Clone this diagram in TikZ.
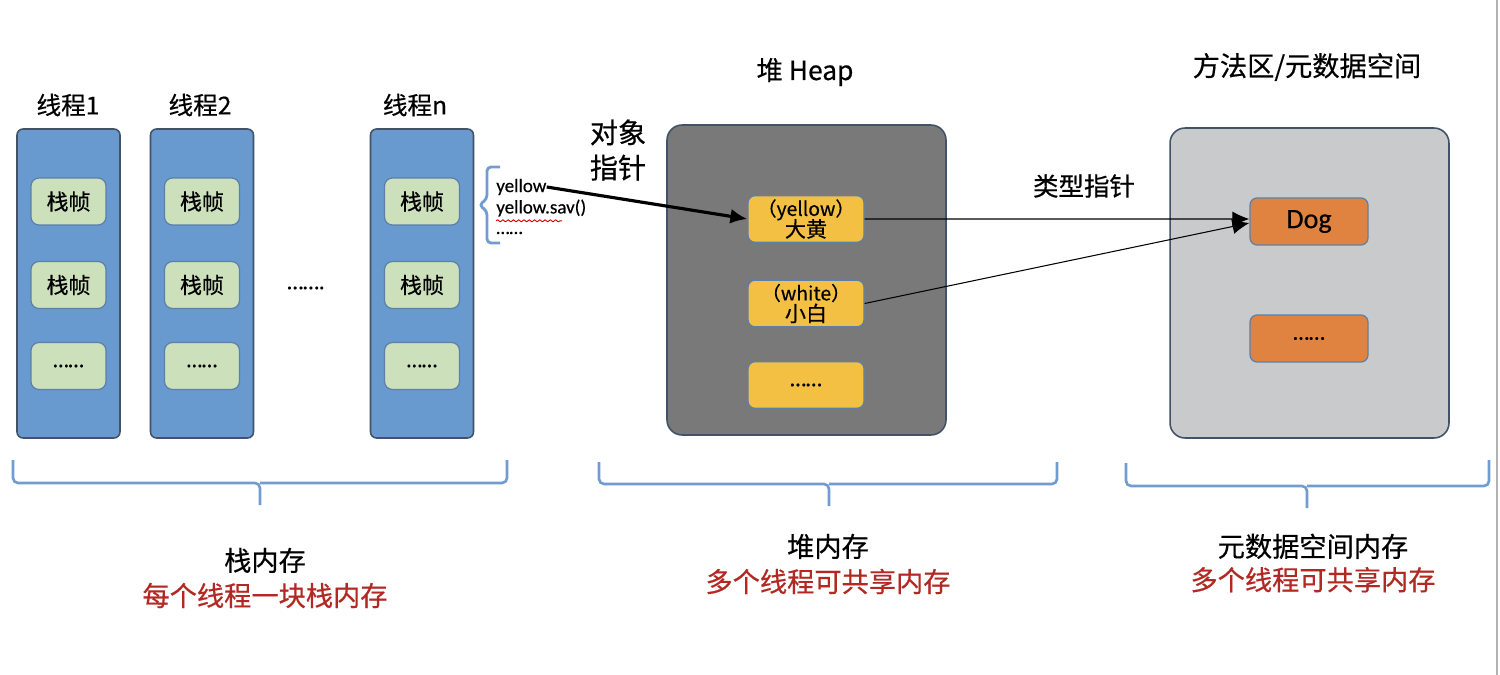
\documentclass[tikz,border=0pt]{standalone}
\usepackage{fontspec}
\setmainfont{Noto Sans CJK SC}[FakeBold=0.5]
\newfontfamily\lat{Carlito}[FakeBold=0.4]
\usetikzlibrary{arrows.meta,decorations.pathmorphing}

\definecolor{threadcol}{RGB}{104,153,207}
\definecolor{framecol}{RGB}{205,224,188}
\definecolor{heapcol}{RGB}{121,121,121}
\definecolor{metacol}{RGB}{201,202,204}
\definecolor{objcol}{RGB}{244,192,67}
\definecolor{classcol}{RGB}{224,131,64}
\definecolor{edgecol}{RGB}{66,82,104}
\definecolor{boxedge}{RGB}{92,128,168}
\definecolor{bracecol}{RGB}{112,156,210}
\definecolor{notecol}{RGB}{178,40,34}

\begin{document}
\begin{tikzpicture}[x=0.02cm,y=-0.02cm,>=latex,line join=round,
  thread/.style={draw=edgecol,fill=threadcol,line width=0.9pt,rounded corners=0.12cm,
    minimum width=2.06cm,minimum height=6.18cm,inner sep=0pt},
  stackframe/.style={draw=boxedge,fill=framecol,line width=0.7pt,rounded corners=0.16cm,
    minimum width=1.5cm,minimum height=0.94cm,inner sep=0pt,font=\fontsize{12.5}{14}\selectfont},
  area/.style={draw=edgecol,line width=0.9pt,rounded corners=0.3cm,
    minimum width=5.58cm,minimum height=6.2cm,inner sep=0pt},
  objbox/.style={draw=boxedge,fill=objcol,line width=0.7pt,rounded corners=0.14cm,
    minimum width=2.32cm,minimum height=0.93cm,inner sep=0pt,align=center,
    font=\fontsize{12}{14}\selectfont},
  classbox/.style={draw=boxedge,fill=classcol,line width=0.7pt,rounded corners=0.14cm,
    minimum width=2.36cm,minimum height=0.94cm,inner sep=0pt},
  title/.style={font=\fontsize{14}{16}\selectfont},
  label/.style={font=\fontsize{15.5}{20}\selectfont,align=center},
  brace/.style={draw=bracecol,line width=1.5pt,rounded corners=0.1cm},
  code/.style={font=\lat\fontsize{10.8}{12}\selectfont,anchor=west,inner sep=0pt}]
\useasboundingbox (0,0) rectangle (1500,675);
\draw[gray!60,line width=1pt] (1497,0) -- (1497,675);
%%
  % Node: thread 1
  \node[thread] (t1) at (68.5,283.5) {};
  \node[title] (t1name) at (68,105) {线程1};
  \node[stackframe] (f11) at (68.5,201.5) {栈帧};
  \node[stackframe] (f12) at (68.5,285) {栈帧};
  \node[stackframe] (f13) at (68.5,366) {\lat ……};
  % Node: thread 2
  \node[thread] (t2) at (202,283.5) {};
  \node[title] (t2name) at (200,105) {线程2};
  \node[stackframe] (f21) at (202,201.5) {栈帧};
  \node[stackframe] (f22) at (202,285) {栈帧};
  \node[stackframe] (f23) at (202,366) {\lat ……};
  % Node: more threads
  \node[font=\lat\fontsize{13}{14}\selectfont] (more) at (306,288) {…….};
  % Node: thread n
  \node[thread] (tn) at (422,283.5) {};
  \node[title] (tnname) at (415,105) {线程n};
  \node[stackframe] (fn1) at (422,201.5) {栈帧};
  \node[stackframe] (fn2) at (422,285) {栈帧};
  \node[stackframe] (fn3) at (422,366) {\lat ……};
  % Node: local variables of the frame
  \draw[brace,line width=1.6pt,rounded corners=0.08cm] (500,167) -- (487,167) -- (487,199) -- (479,205) -- (487,211) -- (487,243) -- (500,243);
  \node[code] (yvar) at (496,187) {yellow};
  \node[code] (ycall) at (496,208) {yellow.sav()};
  \node[code] (ymore) at (496,233) {……};
  \draw[red!80!black,line width=0.5pt,decorate,decoration={snake,amplitude=0.6pt,segment length=3pt}] (ycall.south west) ++(0,4) -- ++(66,0);
  \node[font=\fontsize{16}{20}\selectfont,align=center] (objptr) at (618,150) {对象\\指针};
%%
  % Node: heap
  \node[area,fill=heapcol] (heap) at (806.5,280) {};
  \node[title,font=\fontsize{15}{18}\selectfont] (heapname) at (805,72) {堆 Heap};
  \node[objbox] (ybox) at (806,219) {\fontsize{11}{12}\selectfont （yellow）\\[-2pt]大黄};
  \node[objbox] (wbox) at (806,303.5) {\fontsize{11}{12}\selectfont （white）\\[-2pt]小白};
  \node[objbox] (mbox) at (806,385) {\lat\fontsize{13}{14}\selectfont ……};
%%
  % Node: method area
  \node[area,fill=metacol] (meta) at (1309.5,283) {};
  \node[title,font=\fontsize{15.5}{18}\selectfont] (metaname) at (1307,67) {方法区/元数据空间};
  \node[classbox,font=\lat\fontsize{16}{18}\selectfont] (dog) at (1309,221.5) {Dog};
  \node[classbox,font=\lat\fontsize{13}{14}\selectfont] (cmore) at (1309,338.5) {……};
  \node[font=\fontsize{14.5}{17}\selectfont] (typeptr) at (1084,186) {类型指针};
%%
  % Edge: yellow -> (yellow)
  \draw [-{Latex[length=0.34cm,width=0.3cm]},line width=1.8pt] (yvar.east) -- (ybox.west);
  % Edge: (yellow) -> Dog
  \draw [-{Latex[length=0.34cm,width=0.3cm]},line width=0.6pt] (ybox.east) -- ([yshift=0.05cm]dog.west);
  % Edge: (white) -> Dog
  \draw [-{Latex[length=0.34cm,width=0.3cm]},line width=0.6pt] (wbox.east) -- ([yshift=-0.03cm]dog.west);
%%
  % Braces and notes below
  \draw[brace] (13,460) -- (13,483) -- (260,483) -- (260,505);
  \draw[brace] (507,460) -- (507,483) -- (260,483);
  \draw[brace] (599,462) -- (599,484) -- (829,484) -- (829,506);
  \draw[brace] (1057,462) -- (1057,484) -- (829,484);
  \draw[brace] (1126,463) -- (1126,486) -- (1307,486) -- (1307,508);
  \draw[brace] (1489,460) -- (1489,486) -- (1307,486);
  \node[label] (stackmem) at (265,578) {栈内存\\[0pt]\color{notecol}每个线程一块栈内存};
  \node[label] (heapmem) at (828,564) {堆内存\\[0pt]\color{notecol}多个线程可共享内存};
  \node[label] (metamem) at (1313,563) {元数据空间内存\\[-1pt]\color{notecol}多个线程可共享内存};
%
\end{tikzpicture}
\end{document}
